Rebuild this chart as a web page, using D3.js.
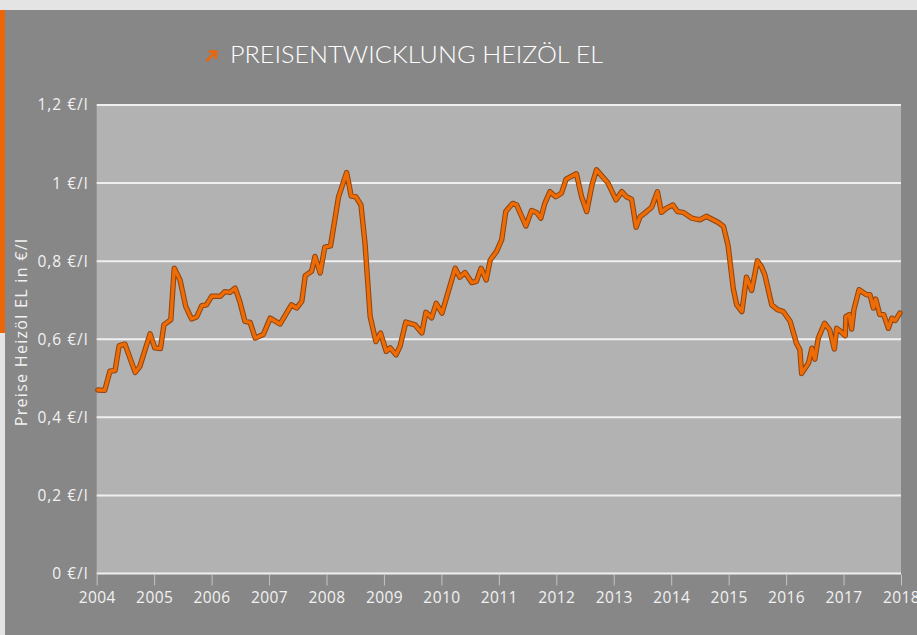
<!DOCTYPE html>
<html>
<head>
<meta charset="utf-8">
<script src="https://cdn.jsdelivr.net/npm/d3@7"></script>
<style>
  body { margin: 0; background: #878787; }
  svg { display: block; font-family: "Open Sans", Lato, sans-serif; }
</style>
</head>
<body>
<svg id="chart" width="917" height="635"></svg>
<script>
// time in decimal years, price in EUR per litre
const times = [
  2004.02, 2004.14, 2004.23, 2004.32, 2004.39, 2004.49, 2004.67, 2004.75, 2004.93,
  2005.01, 2005.11, 2005.17, 2005.29, 2005.35, 2005.45, 2005.55, 2005.65, 2005.74, 2005.83, 2005.91,
  2006.00, 2006.15, 2006.23, 2006.32, 2006.41, 2006.49, 2006.58, 2006.67, 2006.76, 2006.90,
  2007.02, 2007.19, 2007.39, 2007.48, 2007.57, 2007.63, 2007.74, 2007.80, 2007.89, 2007.97,
  2008.07, 2008.21, 2008.35, 2008.43, 2008.51, 2008.60, 2008.67, 2008.76, 2008.86, 2008.94,
  2009.04, 2009.11, 2009.21, 2009.28, 2009.38, 2009.54, 2009.66, 2009.73, 2009.83, 2009.91,
  2010.01, 2010.24, 2010.32, 2010.41, 2010.53, 2010.61, 2010.69, 2010.78, 2010.85, 2010.96,
  2011.05, 2011.12, 2011.24, 2011.31, 2011.47, 2011.57, 2011.66, 2011.73, 2011.80, 2011.89, 2011.99,
  2012.09, 2012.17, 2012.35, 2012.44, 2012.53, 2012.62, 2012.70, 2012.90,
  2013.04, 2013.14, 2013.22, 2013.31, 2013.39, 2013.46, 2013.54, 2013.66, 2013.76, 2013.83, 2013.92,
  2014.03, 2014.11, 2014.21, 2014.36, 2014.50, 2014.61, 2014.82, 2014.91, 2014.99,
  2015.08, 2015.14, 2015.23, 2015.31, 2015.40, 2015.50, 2015.57, 2015.63, 2015.75, 2015.85, 2015.95,
  2016.07, 2016.18, 2016.24, 2016.27, 2016.39, 2016.45, 2016.50, 2016.56, 2016.67, 2016.76, 2016.84, 2016.88, 2016.95,
  2017.03, 2017.04, 2017.10, 2017.14, 2017.18, 2017.27, 2017.40, 2017.46, 2017.52, 2017.56, 2017.63, 2017.70,
  2017.78, 2017.84, 2017.90, 2017.98
];
const prices = [
  0.470, 0.469, 0.518, 0.520, 0.583, 0.588, 0.515, 0.530, 0.614,
  0.578, 0.576, 0.637, 0.650, 0.782, 0.752, 0.684, 0.652, 0.657, 0.686, 0.688,
  0.710, 0.710, 0.722, 0.720, 0.731, 0.697, 0.646, 0.643, 0.603, 0.612,
  0.654, 0.639, 0.688, 0.680, 0.697, 0.763, 0.774, 0.812, 0.770, 0.836,
  0.839, 0.965, 1.027, 0.967, 0.965, 0.944, 0.846, 0.658, 0.594, 0.616,
  0.569, 0.578, 0.560, 0.582, 0.644, 0.637, 0.616, 0.669, 0.655, 0.692,
  0.667, 0.782, 0.759, 0.771, 0.745, 0.748, 0.782, 0.752, 0.803, 0.825,
  0.855, 0.927, 0.948, 0.944, 0.890, 0.930, 0.924, 0.910, 0.948, 0.978, 0.965,
  0.974, 1.010, 1.024, 0.965, 0.927, 0.995, 1.034, 1.000,
  0.957, 0.978, 0.965, 0.959, 0.887, 0.914, 0.923, 0.938, 0.978, 0.925, 0.936,
  0.944, 0.927, 0.925, 0.910, 0.906, 0.915, 0.899, 0.889, 0.840,
  0.730, 0.688, 0.671, 0.759, 0.725, 0.801, 0.786, 0.765, 0.688, 0.676, 0.671,
  0.646, 0.590, 0.573, 0.512, 0.539, 0.577, 0.549, 0.603, 0.641, 0.624, 0.575, 0.628, 0.620,
  0.609, 0.658, 0.663, 0.626, 0.676, 0.727, 0.714, 0.714, 0.680, 0.703, 0.663, 0.663,
  0.628, 0.654, 0.648, 0.667
];
const yearTicks = d3.range(2004, 2019);
const priceTicks = [0, 0.2, 0.4, 0.6, 0.8, 1, 1.2];

const title = 'PREISENTWICKLUNG HEIZÖL EL';
const yTitle = 'Preise Heizöl EL in €/l';

const data = times.map((t, i) => ({t: t, v: prices[i]}));

const svg = d3.select('#chart');
const W = 917, H = 635;
const margin = {top: 105, right: 16, bottom: 61, left: 96.7};

// page frame
svg.append('rect').attr('width', W).attr('height', H).attr('fill', '#878787');
svg.append('rect').attr('width', W).attr('height', 10).attr('fill', '#e4e4e4');
svg.append('rect').attr('x', 0).attr('y', 10).attr('width', 5).attr('height', 323).attr('fill', '#ec6608');
svg.append('rect').attr('x', 0).attr('y', 333).attr('width', 5).attr('height', H - 333).attr('fill', '#e4e4e4');

const x = d3.scaleLinear()
    .domain([2004, 2018])
    .range([margin.left, W - margin.right]);

const y = d3.scaleLinear()
    .domain([0, 1.2])
    .range([H - margin.bottom - 0.5, margin.top]);

// plot background
svg.append('rect')
    .attr('x', x(2004))
    .attr('y', y(1.2))
    .attr('width', x(2018) - x(2004))
    .attr('height', y(0) - y(1.2))
    .attr('fill', '#b2b2b2');

// gridlines
svg.append('g').selectAll('line')
    .data(priceTicks)
    .enter().append('line')
    .attr('x1', x(2004))
    .attr('x2', x(2018))
    .attr('y1', d => y(d))
    .attr('y2', d => y(d))
    .attr('stroke', '#efefef')
    .attr('stroke-width', 2);

// x axis
const xAxis = d3.axisBottom(x)
    .tickValues(yearTicks)
    .tickFormat(d3.format('d'))
    .tickSize(11)
    .tickPadding(6);

const gx = svg.append('g')
    .attr('transform', 'translate(0,' + (y(0) + 1) + ')')
    .call(xAxis);
gx.select('.domain').remove();
gx.selectAll('line').attr('stroke', '#c4c4c4');
gx.selectAll('text')
    .attr('fill', '#f2f2f2')
    .style('font-size', '15.5px')
    .style('letter-spacing', '0.4px')
    .style('font-family', '"Open Sans", sans-serif');

// y axis labels
const fmt = d => (d === 0 || d === 1 ? d3.format('d')(d) : d3.format('.1f')(d).replace('.', ',')) + ' €/l';
const yAxis = d3.axisLeft(y)
    .tickValues(priceTicks)
    .tickFormat(fmt)
    .tickSize(0)
    .tickPadding(8);

const gy = svg.append('g')
    .attr('transform', 'translate(' + x(2004) + ',0)')
    .call(yAxis);
gy.select('.domain').remove();
gy.selectAll('text')
    .attr('fill', '#f2f2f2')
    .style('font-size', '15.5px')
    .style('letter-spacing', '1px')
    .style('font-family', '"Open Sans", sans-serif');

// line
const line = d3.line()
    .x(d => x(d.t))
    .y(d => y(d.v));

svg.append('path')
    .datum(data)
    .attr('d', line)
    .attr('fill', 'none')
    .attr('stroke', '#8e4410')
    .attr('stroke-width', 5.4)
    .attr('stroke-linejoin', 'round')
    .attr('stroke-linecap', 'round');

svg.append('path')
    .datum(data)
    .attr('d', line)
    .attr('fill', 'none')
    .attr('stroke', '#ee6c06')
    .attr('stroke-width', 3.4)
    .attr('stroke-linejoin', 'round')
    .attr('stroke-linecap', 'round');

// title arrow
const arrow = svg.append('g')
    .attr('stroke', '#ec6608')
    .attr('stroke-width', 2.6)
    .attr('fill', 'none');
arrow.append('path').attr('d', 'M206.5,61 L215,52.5');
arrow.append('path').attr('d', 'M208.5,51.5 L216,51.5 L216,59');

svg.append('text')
    .attr('x', 230)
    .attr('y', 62.5)
    .attr('fill', '#ffffff')
    .attr('textLength', 373)
    .attr('lengthAdjust', 'spacingAndGlyphs')
    .style('font-size', '23px')
    .style('font-family', 'Lato, sans-serif')
    .style('font-weight', 300)
    .text(title);

// y title
svg.append('text')
    .attr('transform', 'translate(27,332) rotate(-90)')
    .attr('text-anchor', 'middle')
    .attr('fill', '#f2f2f2')
    .style('font-size', '16px')
    .style('letter-spacing', '1.3px')
    .text(yTitle);
</script>
</body>
</html>
